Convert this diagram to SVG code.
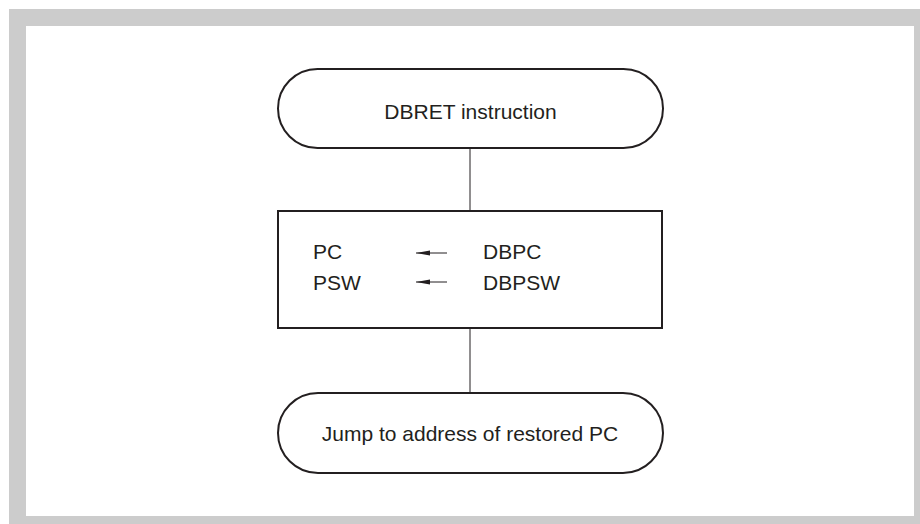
<svg xmlns="http://www.w3.org/2000/svg" width="920" height="524" viewBox="0 0 920 524">
<defs>
<style>
.shape{fill:#fff;stroke:#231f20;stroke-width:2}
.conn{stroke:#231f20;stroke-width:1;fill:none}
.t{font-family:"Liberation Sans",Arial,sans-serif;font-size:21px;fill:#231f20}
.c{text-anchor:middle}
</style>
<marker id="ah" markerWidth="14" markerHeight="6" refX="0" refY="3" orient="auto" markerUnits="userSpaceOnUse">
<path d="M0,3 L14,0.6 L14,5.4 Z" fill="#231f20"/>
</marker>
</defs>
<rect x="0" y="0" width="920" height="524" fill="#fff"/>
<path d="M9,9 H920 V524 H9 Z M26,26 V516 H914 V26 Z" fill="#cccccc" fill-rule="evenodd"/>
<g id="connectors">
<line class="conn" x1="470" y1="148" x2="470" y2="211"/>
<line class="conn" x1="470" y1="328" x2="470" y2="393"/>
</g>
<g id="start">
<rect class="shape" x="278" y="69" width="385" height="79" rx="39.5" ry="39.5"/>
<text class="t c" x="470.5" y="119">DBRET instruction</text>
</g>
<g id="process">
<rect class="shape" x="278" y="211" width="384" height="117"/>
<text class="t" x="313" y="259">PC</text>
<text class="t" x="313" y="290">PSW</text>
<line class="conn" x1="416" y1="253" x2="447" y2="253" marker-start="url(#ah)"/>
<line class="conn" x1="416" y1="282" x2="447" y2="282" marker-start="url(#ah)"/>
<text class="t" x="483" y="259">DBPC</text>
<text class="t" x="483" y="290">DBPSW</text>
</g>
<g id="end">
<rect class="shape" x="278" y="393" width="385" height="80" rx="40" ry="40"/>
<text class="t c" x="470" y="441">Jump to address of restored PC</text>
</g>
</svg>
